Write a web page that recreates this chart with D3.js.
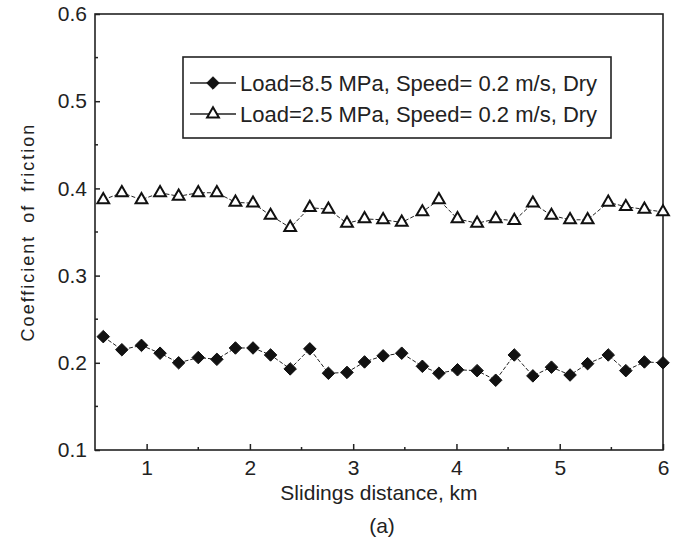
<!DOCTYPE html>
<html>
<head>
<meta charset="utf-8">
<script src="https://cdn.jsdelivr.net/npm/d3@7"></script>
<style>
  body { margin: 0; background: #fff; }
  text { font-family: "Liberation Sans", Arial, sans-serif; fill: #222; }
</style>
</head>
<body>
<div id="chart"></div>
<script>
var w = 679;
var h = 540;

// sliding distance (km) of each reading
var distance = [0.58, 0.76, 0.95, 1.13, 1.31, 1.50, 1.68, 1.86, 2.03, 2.20, 2.39,
  2.58, 2.76, 2.94, 3.11, 3.29, 3.47, 3.67, 3.83, 4.01, 4.20, 4.38, 4.56,
  4.74, 4.92, 5.10, 5.27, 5.47, 5.64, 5.82, 6.00];

// Load=8.5 MPa
var cofHigh = [0.230, 0.215, 0.220, 0.211, 0.200, 0.206, 0.204, 0.217, 0.217, 0.209, 0.193,
  0.216, 0.188, 0.189, 0.201, 0.208, 0.211, 0.196, 0.188, 0.192, 0.191, 0.180, 0.209,
  0.185, 0.195, 0.186, 0.199, 0.209, 0.191, 0.201, 0.200];

// Load=2.5 MPa
var cofLow = [0.387, 0.395, 0.387, 0.395, 0.391, 0.395, 0.395, 0.384, 0.383, 0.369, 0.355,
  0.378, 0.376, 0.360, 0.365, 0.364, 0.361, 0.373, 0.387, 0.365, 0.360, 0.365, 0.363,
  0.383, 0.369, 0.364, 0.364, 0.384, 0.379, 0.376, 0.373];

var seriesNames = ["Load=8.5 MPa, Speed= 0.2 m/s, Dry", "Load=2.5 MPa, Speed= 0.2 m/s, Dry"];
var xTicks = [1, 2, 3, 4, 5, 6];
var yTicks = [0.1, 0.2, 0.3, 0.4, 0.5, 0.6];

// plot box (note: "top" is taken by window.top)
var pLeft = 95, pRight = 663, pTop = 14, pBottom = 450;

var svg = d3.select("#chart").append("svg")
  .attr("width", w)
  .attr("height", h);

var x = d3.scaleLinear().domain([0.5, 6]).range([pLeft, pRight]);
var y = d3.scaleLinear().domain([0.1, 0.6]).range([pBottom, pTop]);

// minor ticks (inward)
svg.selectAll(".xminor")
  .data([1.5, 2.5, 3.5, 4.5, 5.5])
  .enter().append("line")
  .attr("x1", function(d) { return x(d); })
  .attr("x2", function(d) { return x(d); })
  .attr("y1", pBottom).attr("y2", pBottom - 3)
  .attr("stroke", "#222").attr("stroke-width", 1.5);

svg.selectAll(".yminor")
  .data([0.15, 0.25, 0.35, 0.45, 0.55])
  .enter().append("line")
  .attr("y1", function(d) { return y(d); })
  .attr("y2", function(d) { return y(d); })
  .attr("x1", pLeft).attr("x2", pLeft + 3)
  .attr("stroke", "#222").attr("stroke-width", 1.5);

// axes
var xAxis = svg.append("g")
  .attr("transform", "translate(0," + pBottom + ")")
  .call(d3.axisBottom(x).tickValues(xTicks).tickSizeInner(-6).tickSizeOuter(0).tickPadding(10).tickFormat(d3.format("d")));

var yAxis = svg.append("g")
  .attr("transform", "translate(" + pLeft + ",0)")
  .call(d3.axisLeft(y).tickValues(yTicks).tickSizeInner(-5).tickSizeOuter(0).tickPadding(8).tickFormat(d3.format(".1f")));

[xAxis, yAxis].forEach(function(g) {
  g.select(".domain").remove();
  g.selectAll(".tick line").attr("stroke", "#222").attr("stroke-width", 1.5);
  g.selectAll(".tick text").style("font-size", "21px").attr("fill", "#222");
});

// frame
svg.append("rect")
  .attr("x", pLeft).attr("y", pTop)
  .attr("width", pRight - pLeft).attr("height", pBottom - pTop)
  .attr("fill", "none").attr("stroke", "#222").attr("stroke-width", 1.6);

var line = d3.line()
  .x(function(d) { return x(d[0]); })
  .y(function(d) { return y(d[1]); });

var dataHigh = distance.map(function(d, i) { return [d, cofHigh[i]]; });
var dataLow = distance.map(function(d, i) { return [d, cofLow[i]]; });

var diamond = d3.symbol().type(d3.symbolDiamond2).size(100);
var triangle = d3.symbol().type(d3.symbolTriangle).size(60);

function drawSeries(data, sym, fill) {
  svg.append("path")
    .datum(data)
    .attr("d", line)
    .attr("fill", "none")
    .attr("stroke", "#222")
    .attr("stroke-width", 1)
    .attr("stroke-dasharray", "4,2");

  svg.selectAll(null)
    .data(data)
    .enter().append("path")
    .attr("transform", function(d) { return "translate(" + x(d[0]) + "," + y(d[1]) + ")"; })
    .attr("d", sym)
    .attr("fill", fill)
    .attr("stroke", "#111")
    .attr("stroke-width", fill == "#fff" ? 2 : 1);
}

drawSeries(dataHigh, diamond, "#111");
drawSeries(dataLow, triangle, "#fff");

// legend
var lg = svg.append("g");
lg.append("rect")
  .attr("x", 183).attr("y", 57).attr("width", 428).attr("height", 81)
  .attr("fill", "#fff").attr("stroke", "#222").attr("stroke-width", 1.6);

var legendItems = [
  { name: seriesNames[0], sym: diamond, fill: "#111", y: 83 },
  { name: seriesNames[1], sym: triangle, fill: "#fff", y: 114 }
];

legendItems.forEach(function(it) {
  lg.append("line")
    .attr("x1", 190).attr("x2", 236)
    .attr("y1", it.y).attr("y2", it.y)
    .attr("stroke", "#222").attr("stroke-width", 1.4);
  lg.append("path")
    .attr("transform", "translate(213," + it.y + ")")
    .attr("d", it.sym)
    .attr("fill", it.fill)
    .attr("stroke", "#111")
    .attr("stroke-width", it.fill == "#fff" ? 2 : 1);
  lg.append("text")
    .attr("x", 240).attr("y", it.y + 8)
    .style("font-size", "22px")
    .text(it.name);
});

// axis titles
svg.append("text")
  .attr("x", (pLeft + pRight) / 2).attr("y", 500)
  .attr("text-anchor", "middle")
  .style("font-size", "21px")
  .text("Slidings distance, km");

svg.append("text")
  .attr("transform", "translate(34," + ((pTop + pBottom) / 2) + ") rotate(-90)")
  .attr("text-anchor", "middle")
  .style("font-size", "18px")
  .style("letter-spacing", "2px")
  .style("word-spacing", "5px")
  .text("Coefficient of friction");

svg.append("text")
  .attr("x", 382).attr("y", 533)
  .attr("text-anchor", "middle")
  .style("font-size", "21px")
  .text("(a)");
</script>
</body>
</html>
